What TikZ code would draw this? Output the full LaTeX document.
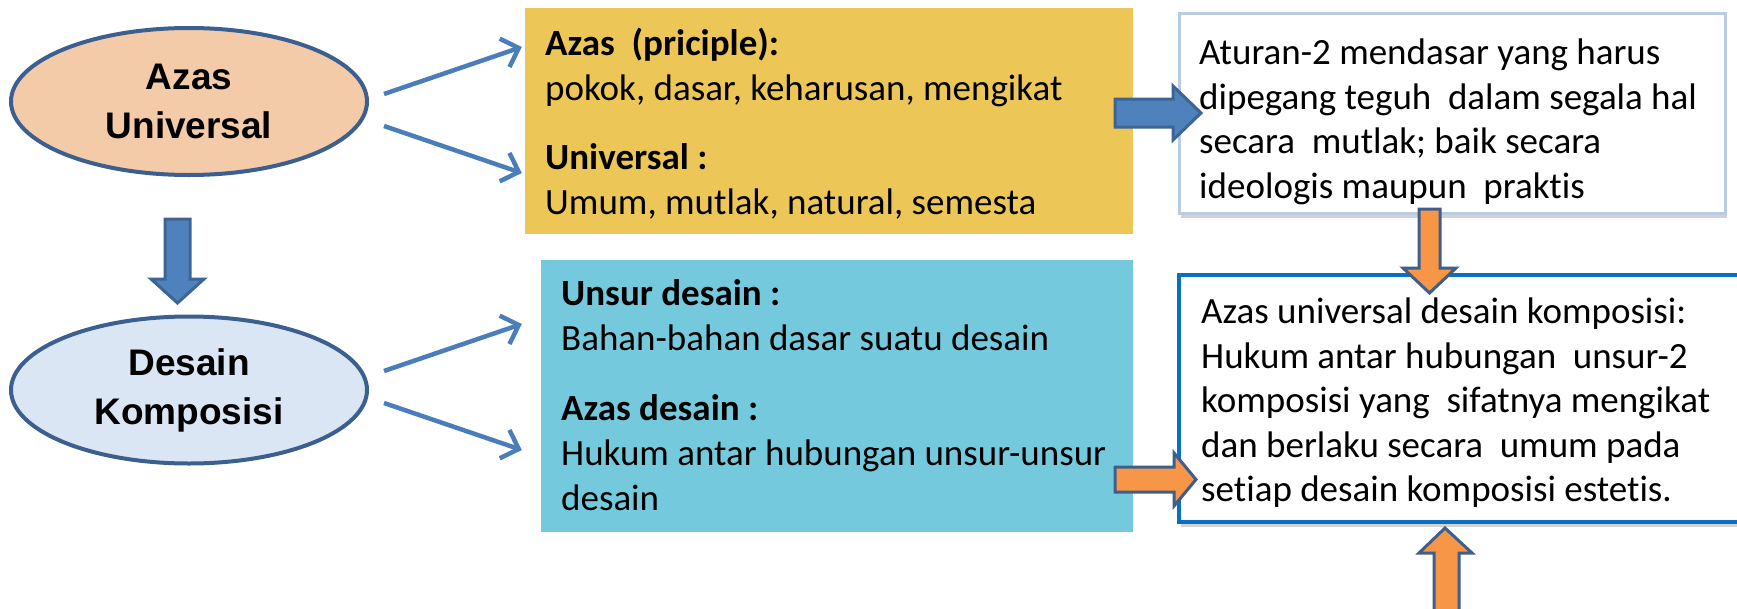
\documentclass[tikz,border=0pt]{standalone}
\usepackage{fontspec}
\setmainfont{Carlito}[Ligatures=NoCommon]
\newfontfamily\ellfont{Liberation Sans}
\usetikzlibrary{arrows.meta,shadows,shapes.geometric}
\definecolor{edgeblue}{HTML}{3B5F8E}
\definecolor{peach}{HTML}{F4CBA8}
\definecolor{paleblue}{HTML}{DAE6F3}
\definecolor{gold}{HTML}{ECC757}
\definecolor{cyanbox}{HTML}{74CADC}
\definecolor{thinblue}{HTML}{4A7EBB}
\definecolor{blockblue}{HTML}{4F81BD}
\definecolor{blockblueedge}{HTML}{3C6494}
\definecolor{blockorange}{HTML}{F79646}
\definecolor{orangeedge}{HTML}{3E5F8C}
\definecolor{softborder}{HTML}{BACBE4}
\definecolor{strongborder}{HTML}{0A6FC2}
\begin{document}
\begin{tikzpicture}[x=1pt,y=-1pt,
  ell/.style={ellipse, draw=edgeblue, line width=4pt, inner sep=0pt,
    minimum width=356pt, minimum height=147pt, align=center,
    font=\ellfont\bfseries\fontsize{37}{49}\selectfont},
  panel/.style={rectangle, inner sep=0pt},
  ln/.style={anchor=base west, inner sep=0pt, font=\fontsize{37}{45}\selectfont},
  lnb/.style={anchor=base west, inner sep=0pt, font=\bfseries\fontsize{37}{45}\selectfont},
  thinarr/.style={draw=thinblue, line width=4.5pt, -{Straight Barb[length=15pt,width=30pt]}},
  bluebk/.style={fill=blockblue, draw=blockblueedge, line width=3pt, line join=miter},
  orangebk/.style={fill=blockorange, draw=orangeedge, line width=3pt, line join=miter},
  shadowed/.style={drop shadow={shadow xshift=2pt, shadow yshift=-5pt, fill=black!35, opacity=0.5}}
]
\useasboundingbox (0,0) rectangle (1737,608);

% ellipses
\node[ell, fill=peach] (e1) at (189,101.5) {Azas\\Universal};
\node[ell, fill=paleblue] (e2) at (189,390) {Desain\\Komposisi};

% coloured panels
\node[panel, fill=gold, minimum width=608pt, minimum height=226pt] (yb) at (829,121) {};
\node[panel, fill=cyanbox, minimum width=592pt, minimum height=272pt] (cb) at (837,396) {};

% right boxes
\node[panel, fill=white, draw=softborder, line width=3pt, shadowed,
      minimum width=546pt, minimum height=200pt] (tr) at (1452,113) {};
\node[panel, fill=white, draw=strongborder, line width=4.5pt, shadowed,
      minimum width=571pt, minimum height=247pt] (lr) at (1464.5,398.5) {};

% yellow text
\node[lnb] (y1) at (545,55) {Azas\ \ (priciple):};
\node[ln]  (y2) at (545,100) {pokok, dasar, keharusan, mengikat};
\node[lnb] (y3) at (545,169) {Universal :};
\node[ln]  (y4) at (545,214) {Umum, mutlak, natural, semesta};

% cyan text
\node[lnb] (c1) at (561,305) {Unsur desain :};
\node[ln]  (c2) at (561,350) {Bahan-bahan dasar suatu desain};
\node[lnb] (c3) at (561,420) {Azas desain :};
\node[ln]  (c4) at (561,465) {Hukum antar hubungan unsur-unsur};
\node[ln]  (c5) at (561,510) {desain};

% top right text
\node[ln] (t1) at (1199,64) {Aturan-2 mendasar yang harus};
\node[ln] (t2) at (1199,109) {dipegang teguh\ \ dalam segala hal};
\node[ln] (t3) at (1199,153) {secara\ \ mutlak; baik secara};
\node[ln] (t4) at (1199,198) {ideologis maupun\ \ praktis};

% lower right text
\node[ln] (l1) at (1201,323) {Azas universal desain komposisi:};
\node[ln] (l2) at (1201,368) {Hukum antar hubungan\ \ unsur-2};
\node[ln] (l3) at (1201,412) {komposisi yang\ \ sifatnya mengikat};
\node[ln] (l4) at (1201,457) {dan berlaku secara\ \ umum pada};
\node[ln] (l5) at (1201,501) {setiap desain komposisi estetis.};

% thin arrows
\draw[thinarr] ([shift={(15,-7.5)}]e1.east) -- ([shift={(-3,-74)}]yb.west);
\draw[thinarr] ([shift={(15,24.5)}]e1.east) -- ([shift={(-3,52)}]yb.west);
\draw[thinarr] ([shift={(15,-19)}]e2.east) -- ([shift={(-19,-72)}]cb.west);
\draw[thinarr] ([shift={(15,13)}]e2.east) -- ([shift={(-19,54)}]cb.west);

% block arrows
\draw[bluebk] (165,219) -- (190,219) -- (190,279) -- (204,279) -- (177.5,303) -- (151,279) -- (165,279) -- cycle;
\draw[bluebk] (1115,99) -- (1173,99) -- (1173,86) -- (1201,113) -- (1173,140) -- (1173,127) -- (1115,127) -- cycle;
\draw[orangebk] (1115,467) -- (1174,467) -- (1174,453) -- (1196,479.5) -- (1174,506) -- (1174,492) -- (1115,492) -- cycle;
\draw[orangebk] (1419,209) -- (1440,209) -- (1440,268) -- (1456,268) -- (1429.5,293) -- (1403,268) -- (1419,268) -- cycle;
\draw[orangebk] (1434,615) -- (1434,553) -- (1419,553) -- (1445,528) -- (1472,553) -- (1459,553) -- (1459,615) -- cycle;
\end{tikzpicture}
\end{document}
